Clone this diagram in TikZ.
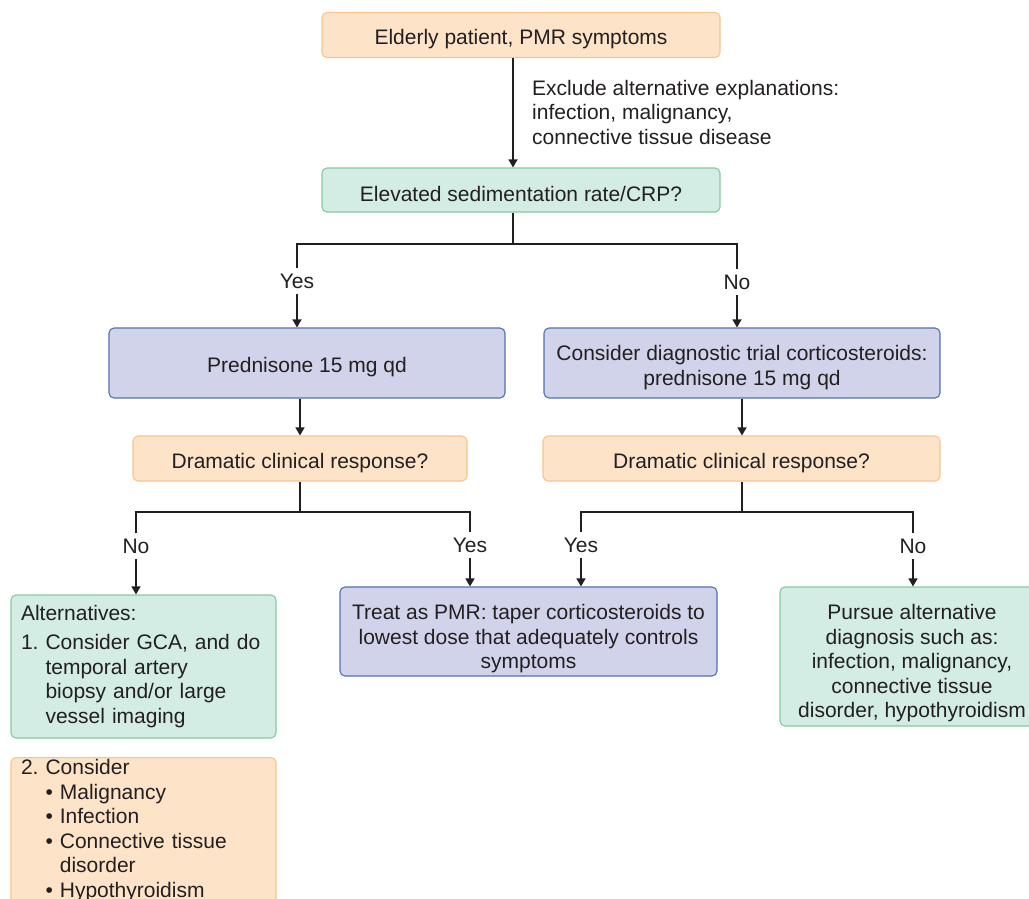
\documentclass[tikz,border=0pt]{standalone}
\usepackage{fontspec}
\setmainfont{Liberation Sans}
\usetikzlibrary{arrows.meta}

\definecolor{ink}{HTML}{231F20}
\definecolor{peach}{HTML}{FDE3C8}
\definecolor{peachline}{HTML}{F7C48C}
\definecolor{mint}{HTML}{D3ECE4}
\definecolor{mintline}{HTML}{84CBA2}
\definecolor{lilac}{HTML}{D1D3EA}
\definecolor{lilacline}{HTML}{5370B6}

% pushes the text of a box down a little
\newcommand{\topgap}[1]{\rule{0pt}{#1}}

\begin{document}
\begin{tikzpicture}[x=1pt, y=-1pt,
  txt/.style={font=\fontsize{21}{24.5}\selectfont\frenchspacing, text=ink},
  box/.style={txt, draw, rounded corners=5pt, line width=1.1pt, align=center, inner sep=0pt},
  peachbox/.style={box, fill=peach, draw=peachline},
  mintbox/.style={box, fill=mint, draw=mintline},
  lilacbox/.style={box, fill=lilac, draw=lilacline},
  answer/.style={txt, inner sep=5pt},
  wire/.style={draw=ink, line width=1.3pt},
  arr/.style={wire, -{Triangle[length=8pt, width=9pt]}}]
  \useasboundingbox (0,0) rectangle (1029,898);

  % start and first test
  \node[peachbox, minimum width=398, minimum height=45] (patient) at (521,35) {\topgap{23pt}Elderly patient, PMR symptoms};
  \node[mintbox, minimum width=398, minimum height=44] (sedrate) at (521,190) {\topgap{23pt}Elevated sedimentation rate/CRP?};
  \coordinate (split) at (513,244);
  \draw[arr] (patient.south -| split) -- (sedrate.north -| split);
  \node[txt, align=left, anchor=north west, inner sep=0pt] (exclude) at (532,80)
    {Exclude alternative explanations:\\infection, malignancy,\\connective tissue disease};

  % yes / no on the sed rate
  \node[answer] (yes1) at (297,281) {Yes};
  \node[answer] (no1) at (737,282) {No};
  \draw[wire] (sedrate.south -| split) -- (split);
  \draw[wire] (yes1) |- (split) -| (no1);

  \node[lilacbox, minimum width=396, minimum height=70] (pred1) at (307,363) {\topgap{23pt}Prednisone 15 mg qd};
  \node[lilacbox, minimum width=396, minimum height=70] (pred2) at (742,363)
    {\topgap{24pt}Consider diagnostic trial corticosteroids:\\prednisone 15 mg qd};
  \draw[arr] (yes1) -- (yes1 |- pred1.north);
  \draw[arr] (no1) -- (no1 |- pred2.north);

  % response to steroids
  \node[peachbox, minimum width=334, minimum height=45] (drama1) at (300,458.5) {\topgap{24pt}Dramatic clinical response?};
  \node[peachbox, minimum width=397, minimum height=45] (drama2) at (741.5,458.5) {\topgap{24pt}Dramatic clinical response?};
  \coordinate (splitL) at (300,512);
  \coordinate (splitR) at (742,512);
  \draw[arr] (pred1.south -| splitL) -- (drama1.north -| splitL);
  \draw[arr] (pred2.south -| splitR) -- (drama2.north -| splitR);
  \draw[wire] (drama1.south -| splitL) -- (splitL);
  \draw[wire] (drama2.south -| splitR) -- (splitR);

  \node[answer] (no2) at (136,546) {No};
  \node[answer] (yes2) at (470,545) {Yes};
  \node[answer] (yes3) at (581,545) {Yes};
  \node[answer] (no3) at (913,546) {No};
  \draw[wire] (no2) |- (splitL) -| (yes2);
  \draw[wire] (yes3) |- (splitR) -| (no3);

  % outcomes
  \node[mintbox, align=left, text width=245, inner xsep=10pt, minimum height=143] (alt1) at (143.5,666.5)
    {Alternatives:\\[4.5pt]1. Consider GCA, and do\\\phantom{1. }temporal artery\\\phantom{1. }biopsy and/or large\\\phantom{1. }vessel imaging};
  \node[peachbox, align=left, text width=245, inner xsep=10pt, inner ysep=2pt, anchor=north] (alt2) at (143.5,757)
    {2. Consider\\\phantom{2. }• Malignancy\\\phantom{2. }• Infection\\\phantom{2. }• Connective tissue\\\phantom{2. • }disorder\\\phantom{2. }• Hypothyroidism};
  \node[lilacbox, minimum width=377, minimum height=89] (treat) at (528.5,631.5)
    {\topgap{30pt}Treat as PMR: taper corticosteroids to\\lowest dose that adequately controls\\symptoms};
  \node[mintbox, minimum width=264, minimum height=139] (pursue) at (912,656.5)
    {\topgap{29pt}Pursue alternative\\diagnosis such as:\\infection, malignancy,\\connective tissue\\disorder, hypothyroidism};
  \draw[arr] (no2) -- (no2 |- alt1.north);
  \draw[arr] (yes2) -- (yes2 |- treat.north);
  \draw[arr] (yes3) -- (yes3 |- treat.north);
  \draw[arr] (no3) -- (no3 |- pursue.north);
\end{tikzpicture}
\end{document}
